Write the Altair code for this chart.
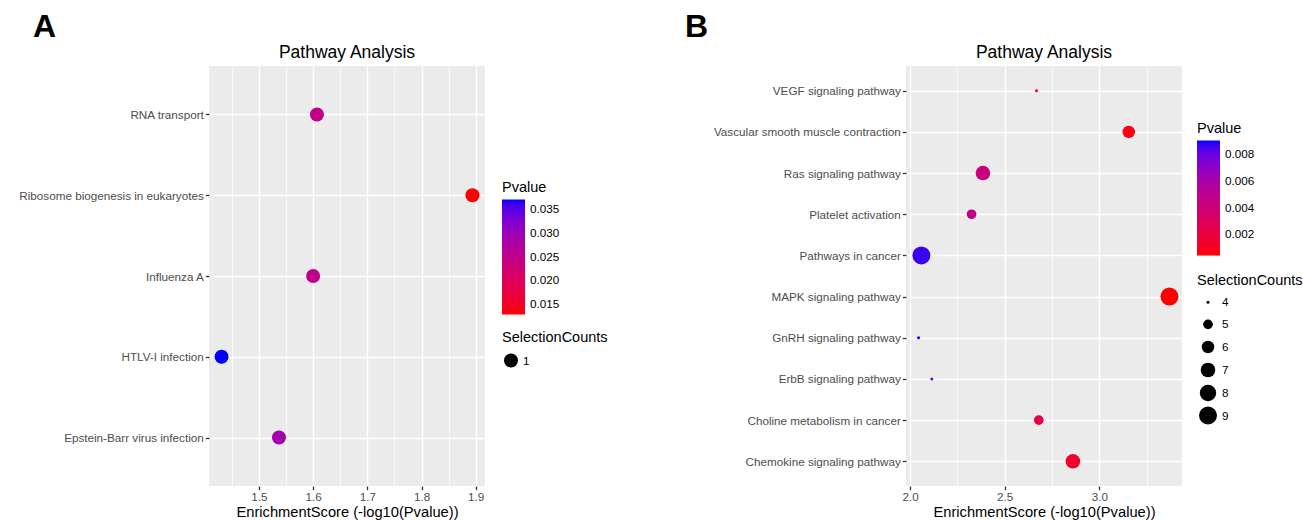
import altair as alt
import pandas as pd

FONT = "Liberation Sans"

# ---------------- Panel A data ----------------
a_pathways = [
    "RNA transport",
    "Ribosome biogenesis in eukaryotes",
    "Influenza A",
    "HTLV-I infection",
    "Epstein-Barr virus infection",
]
a_score = [1.607, 1.894, 1.600, 1.431, 1.537]
a_pvalue = [0.0247, 0.01276, 0.0251, 0.0371, 0.0290]
a_counts = [1, 1, 1, 1, 1]
a_xticks = [1.45, 1.5, 1.55, 1.6, 1.65, 1.7, 1.75, 1.8, 1.85, 1.9]
a_pticks = [0.015, 0.020, 0.025, 0.030, 0.035]
a_size_values = [1]

# ---------------- Panel B data ----------------
b_pathways = [
    "VEGF signaling pathway",
    "Vascular smooth muscle contraction",
    "Ras signaling pathway",
    "Platelet activation",
    "Pathways in cancer",
    "MAPK signaling pathway",
    "GnRH signaling pathway",
    "ErbB signaling pathway",
    "Choline metabolism in cancer",
    "Chemokine signaling pathway",
]
b_score = [2.668, 3.155, 2.385, 2.325, 2.060, 3.370, 2.045, 2.115, 2.680, 2.860]
b_pvalue = [0.00215, 0.00070, 0.00412, 0.00473, 0.00871, 0.00043, 0.00902, 0.00767, 0.00209, 0.00138]
b_counts = [4, 6, 7, 5, 9, 9, 4, 4, 5, 7]
b_xticks = [2.0, 2.25, 2.5, 2.75, 3.0, 3.25]
b_pticks = [0.002, 0.004, 0.006, 0.008]
b_size_values = [4, 5, 6, 7, 8, 9]

PLOT_W = 276
PLOT_H = 420


def expand(vals, frac=0.05):
    lo, hi = min(vals), max(vals)
    d = (hi - lo) * frac
    return [lo - d, hi + d]


def panel(pathways, score, pvalue, counts, xticks, major_mult, pticks,
          size_scale, size_values, letter, letter_x, leg):
    df = pd.DataFrame({"pathway": pathways, "score": score,
                       "pvalue": pvalue, "counts": counts})
    major = f"abs(datum.value*{major_mult} - round(datum.value*{major_mult})) < 1e-6"
    xaxis = alt.Axis(
        values=xticks,
        title="EnrichmentScore (-log10(Pvalue))",
        grid=True, gridColor="white",
        gridWidth={"condition": {"test": major, "value": 1.4}, "value": 0.7},
        tickOpacity={"condition": {"test": major, "value": 1}, "value": 0},
        labelExpr=f"{major} ? format(datum.value, '.1f') : ''",
        domain=False, tickColor="#333333", tickSize=3.7, tickWidth=1.3,
        labelFont=FONT, labelFontSize=11.7, labelColor="#4D4D4D", labelPadding=2,
        titleFont=FONT, titleFontSize=14.7, titleFontWeight="normal", titleColor="black",
        titlePadding=1,
    )
    yaxis = alt.Axis(
        title=None, grid=True, gridColor="white", gridWidth=1.4,
        domain=False, tickColor="#333333", tickSize=3.7, tickWidth=1.3,
        labelFont=FONT, labelFontSize=11.7, labelColor="#4D4D4D", labelPadding=2,
        labelLimit=400,
    )
    pts = alt.Chart(df).mark_circle(opacity=1, strokeWidth=0).encode(
        x=alt.X("score:Q", scale=alt.Scale(domain=expand(score), nice=False, zero=False), axis=xaxis),
        y=alt.Y("pathway:N", sort=pathways, scale=alt.Scale(padding=0.6), axis=yaxis),
        color=alt.Color(
            "pvalue:Q",
            scale=alt.Scale(range=["#FF0000", "#0000FF"], interpolate="lab", zero=False, nice=False),
            legend=alt.Legend(
                title="Pvalue", orient="none", legendX=leg["cx"], legendY=leg["cy"],
                direction="vertical", values=pticks, format=".3f",
                gradientLength=115, gradientThickness=23, gradientStrokeWidth=0,
                titleFont=FONT, titleFontSize=14.5, titleFontWeight="normal", titleColor="black",
                titlePadding=4, labelFont=FONT, labelFontSize=11.7, labelColor="black",
                labelOffset=5,
            ),
        ),
        size=alt.Size(
            "counts:Q", scale=size_scale,
            legend=alt.Legend(
                title="SelectionCounts", orient="none", legendX=leg["sx"], legendY=leg["sy"],
                values=size_values, format="d", symbolType="circle", symbolFillColor="black",
                symbolStrokeWidth=0, symbolOpacity=1, rowPadding=4, gridAlign="all",
                symbolOffset=2,
                titleFont=FONT, titleFontSize=14.5, titleFontWeight="normal", titleColor="black",
                titlePadding=8, labelFont=FONT, labelFontSize=11.7, labelColor="black",
                labelOffset=5,
            ),
        ),
    )
    lab = alt.Chart(pd.DataFrame({"t": [letter]})).mark_text(
        font=FONT, fontSize=32, fontWeight="bold", color="black",
        align="left", baseline="alphabetic",
    ).encode(text="t:N", x=alt.value(letter_x), y=alt.value(-29))
    ttl = alt.Chart(pd.DataFrame({"t": ["Pathway Analysis"]})).mark_text(
        font=FONT, fontSize=17.5, color="black", align="center", baseline="alphabetic",
    ).encode(text="t:N", x=alt.value(PLOT_W / 2), y=alt.value(-8))
    return alt.layer(pts, lab, ttl).properties(width=PLOT_W, height=PLOT_H)


pA = panel(a_pathways, a_score, a_pvalue, a_counts, a_xticks, 10, a_pticks,
           alt.Scale(domain=[0, 1], range=[0, 196]), a_size_values, "A", -176,
           {"cx": 293, "cy": 115, "sx": 293, "sy": 265})
pB = panel(b_pathways, b_score, b_pvalue, b_counts, b_xticks, 2, b_pticks,
           alt.Scale(domain=[4, 5, 6, 7, 8, 9], range=[9, 94, 156, 213, 269, 324]),
           b_size_values, "B", -221,
           {"cx": 291, "cy": 56, "sx": 291, "sy": 208})

chart = alt.hconcat(pA, pB, spacing=77).resolve_scale(
    x="independent", y="independent", color="independent", size="independent"
).resolve_legend(color="independent", size="independent").properties(
    padding={"left": 18, "top": 11, "right": 0, "bottom": 0}, background="white"
).configure_view(fill="#EBEBEB", stroke="transparent", strokeWidth=0)

chart.save("out.html", embed_options={"renderer": "svg", "actions": False})
